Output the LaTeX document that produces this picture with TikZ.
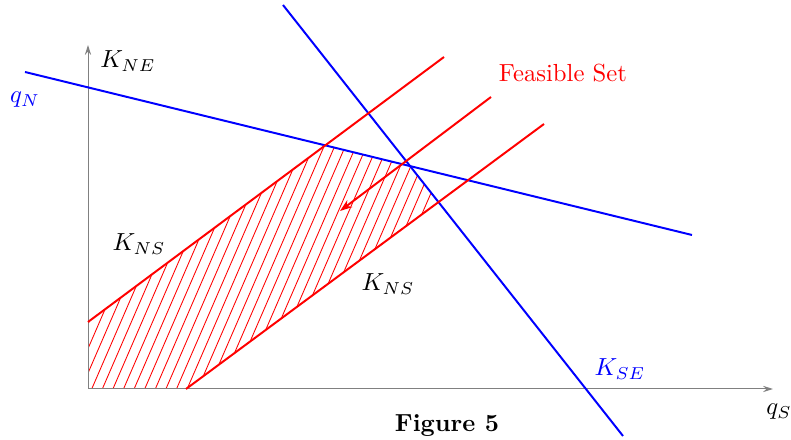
\documentclass[tikz,border=0pt]{standalone}
\usetikzlibrary{arrows.meta}
\begin{document}
\begin{tikzpicture}[x=0.405pt,y=-0.405pt,
  axis/.style={gray,line width=0.4pt,-{Stealth[length=4pt,width=2.5pt]}},
  redline/.style={red,line width=0.8pt},
  blueline/.style={blue,line width=0.8pt},
  hatch/.style={red,line width=0.35pt},
  lbl/.style={inner sep=0pt}]
\useasboundingbox (0,0) rectangle (791,440);
% hatched region
\begin{scope}
\clip (88,389) -- (88,322) -- (325.5,145.5) -- (410,166) -- (438.4,202) -- (186,389) -- cycle;
\foreach \i in {-12,...,34} {
  \draw[hatch] ({91.7+10.6*\i},389) -- ++(130,-300);
}
\end{scope}
% axes
\coordinate (O) at (88,389);
\coordinate (ytop) at (88,45);
\coordinate (xend) at (773,389);
\draw[axis] (O) -- (ytop);
\draw[axis] (O) -- (xend);
% blue lines
\coordinate (b1s) at (25,72);
\coordinate (b1e) at (692,235);
\coordinate (b2s) at (283,5);
\coordinate (b2e) at (623,436);
\draw[blueline] (b1s) -- (b1e);
\draw[blueline] (b2s) -- (b2e);
% red lines
\coordinate (r1s) at (88,322);
\coordinate (r1e) at (444,57);
\coordinate (r2s) at (491,97);
\coordinate (r2e) at (340,211);
\coordinate (r3s) at (186,389);
\coordinate (r3e) at (544,124);
\draw[redline] (r1s) -- (r1e);
\draw[redline,-{Stealth[length=5pt,width=3.5pt]}] (r2s) -- (r2e);
\draw[redline] (r3s) -- (r3e);
% labels
\node[lbl] (kne) at (128,61) {$K_{NE}$};
\node[lbl,blue] (qn) at (25,100) {$q_N$};
\node[lbl,red] (fs) at (563,73) {Feasible Set};
\node[lbl] (kns1) at (139,244) {$K_{NS}$};
\node[lbl] (kns2) at (388,284) {$K_{NS}$};
\node[lbl,blue] (kse) at (620,369) {$K_{SE}$};
\node[lbl] (qs) at (779,412) {$q_S$};
\node[lbl] (fig) at (447,426) {\textbf{Figure 5}};
\end{tikzpicture}
\end{document}
